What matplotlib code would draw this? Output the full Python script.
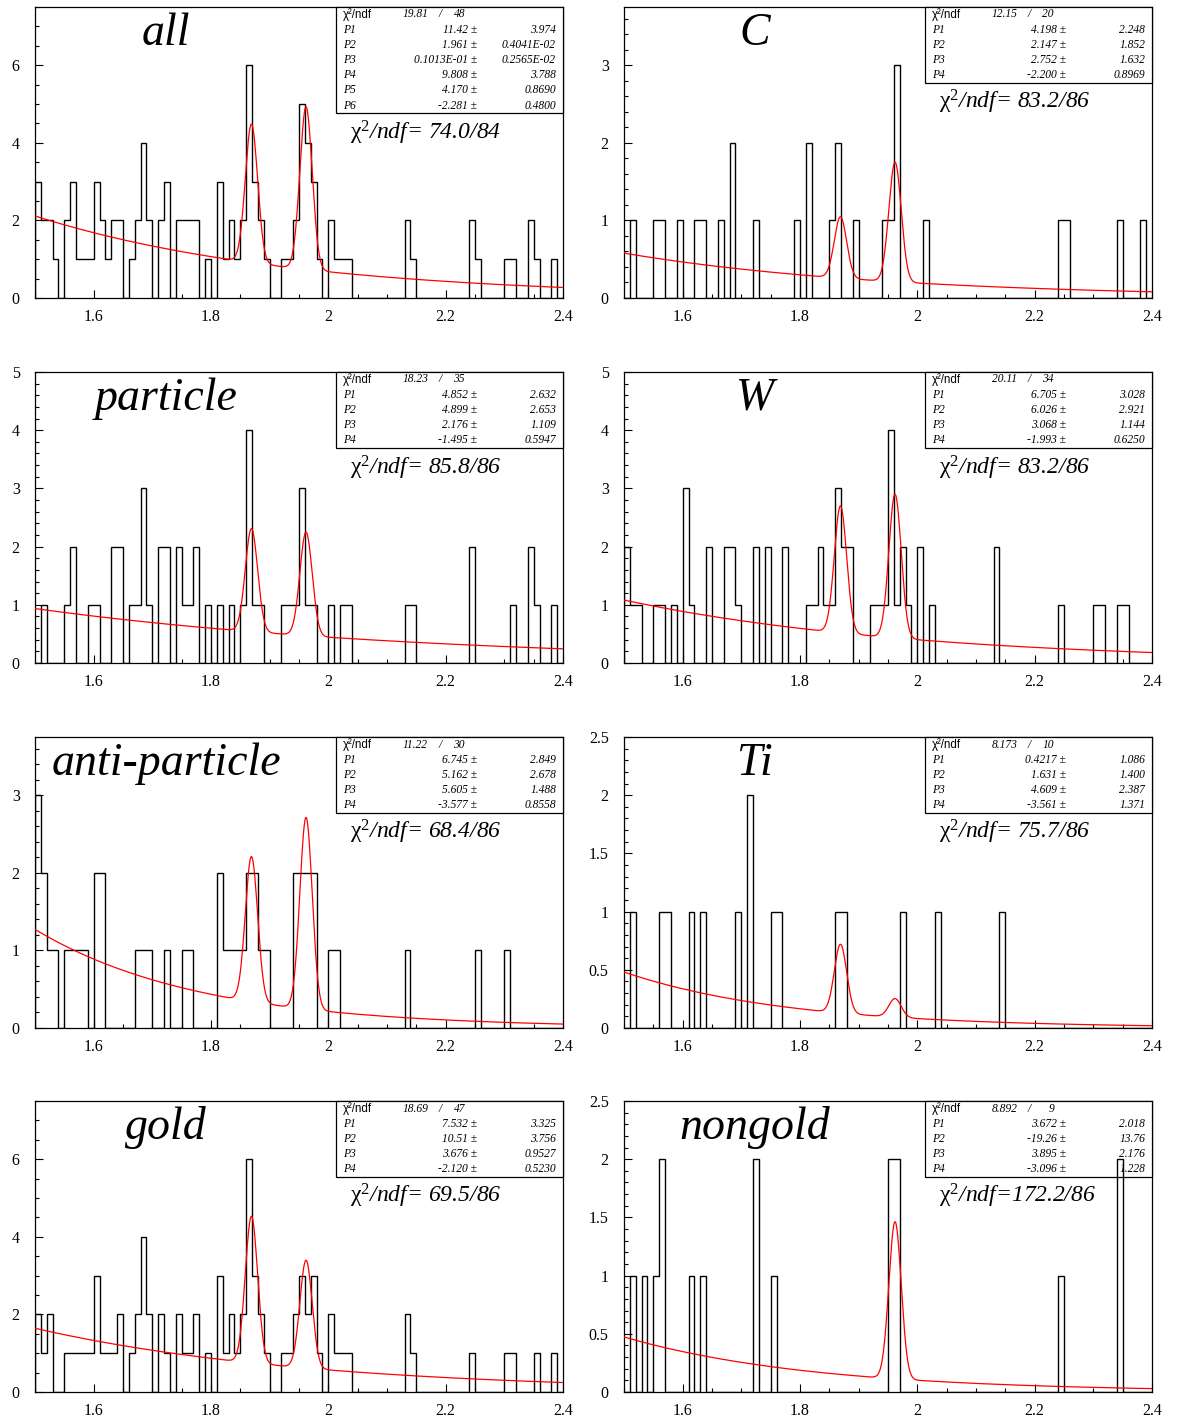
import numpy as np
import matplotlib
matplotlib.use('Agg')
import matplotlib.pyplot as plt
from matplotlib.patches import Rectangle
from matplotlib.ticker import MultipleLocator, FormatStrFormatter

plt.rcParams['font.family'] = ['Liberation Serif', 'DejaVu Serif']
plt.rcParams['mathtext.fontset'] = 'custom'
plt.rcParams['mathtext.rm'] = 'Liberation Serif'
plt.rcParams['mathtext.it'] = 'Liberation Serif:italic'

# --- histogram binning (1.5 - 2.4 GeV, 90 bins) ---
X_LO, X_HI, NBINS = 1.5, 2.4, 90
edges = np.linspace(X_LO, X_HI, NBINS + 1)

# --- bin contents ---
all_counts = [
    3, 2, 2, 1, 0, 2, 3, 1, 1, 1,
    3, 2, 1, 2, 2, 0, 1, 2, 4, 2,
    0, 2, 3, 0, 2, 2, 2, 2, 0, 1,
    0, 3, 1, 2, 1, 2, 6, 3, 2, 1,
    0, 0, 1, 1, 2, 5, 4, 3, 1, 0,
    2, 1, 1, 1, 0, 0, 0, 0, 0, 0,
    0, 0, 0, 2, 1, 0, 0, 0, 0, 0,
    0, 0, 0, 0, 2, 1, 0, 0, 0, 0,
    1, 1, 0, 0, 2, 1, 0, 0, 1, 0]
C_counts = [
    0, 1, 0, 0, 0, 1, 1, 0, 0, 1,
    0, 0, 1, 1, 0, 0, 1, 0, 2, 0,
    0, 0, 1, 0, 0, 0, 0, 0, 0, 1,
    0, 2, 0, 0, 0, 1, 2, 0, 0, 1,
    0, 0, 0, 0, 1, 1, 3, 0, 0, 0,
    0, 1, 0, 0, 0, 0, 0, 0, 0, 0,
    0, 0, 0, 0, 0, 0, 0, 0, 0, 0,
    0, 0, 0, 0, 1, 1, 0, 0, 0, 0,
    0, 0, 0, 0, 1, 0, 0, 0, 1, 0]
particle_counts = [
    0, 1, 0, 0, 0, 1, 2, 0, 0, 1,
    1, 0, 0, 2, 2, 0, 1, 1, 3, 1,
    0, 2, 2, 0, 2, 1, 1, 2, 0, 1,
    0, 1, 0, 1, 0, 1, 4, 1, 1, 0,
    0, 0, 1, 1, 1, 3, 1, 1, 0, 0,
    1, 0, 1, 1, 0, 0, 0, 0, 0, 0,
    0, 0, 0, 1, 1, 0, 0, 0, 0, 0,
    0, 0, 0, 0, 2, 0, 0, 0, 0, 0,
    0, 1, 0, 0, 2, 1, 0, 0, 1, 0]
W_counts = [
    2, 1, 1, 0, 0, 1, 1, 0, 1, 0,
    3, 1, 0, 0, 2, 0, 0, 2, 2, 1,
    0, 0, 2, 0, 2, 0, 0, 2, 0, 0,
    0, 1, 1, 2, 1, 1, 3, 2, 2, 0,
    0, 0, 1, 1, 1, 4, 1, 2, 1, 0,
    2, 0, 1, 0, 0, 0, 0, 0, 0, 0,
    0, 0, 0, 2, 0, 0, 0, 0, 0, 0,
    0, 0, 0, 0, 1, 0, 0, 0, 0, 0,
    1, 1, 0, 0, 1, 1, 0, 0, 0, 0]
anti_counts = [
    3, 2, 1, 1, 0, 1, 1, 1, 1, 0,
    2, 2, 0, 0, 0, 0, 0, 1, 1, 1,
    0, 0, 1, 0, 0, 1, 1, 0, 0, 0,
    0, 2, 1, 1, 1, 1, 2, 2, 1, 1,
    0, 0, 0, 0, 2, 2, 2, 2, 0, 0,
    1, 1, 0, 0, 0, 0, 0, 0, 0, 0,
    0, 0, 0, 1, 0, 0, 0, 0, 0, 0,
    0, 0, 0, 0, 0, 1, 0, 0, 0, 0,
    1, 0, 0, 0, 0, 0, 0, 0, 0, 0]
Ti_counts = [
    0, 1, 0, 0, 0, 0, 1, 1, 0, 0,
    0, 1, 0, 1, 0, 0, 0, 0, 0, 1,
    0, 2, 0, 0, 0, 1, 1, 0, 0, 0,
    0, 0, 0, 0, 0, 0, 1, 1, 0, 0,
    0, 0, 0, 0, 0, 0, 0, 1, 0, 0,
    0, 0, 0, 1, 0, 0, 0, 0, 0, 0,
    0, 0, 0, 0, 1, 0, 0, 0, 0, 0,
    0, 0, 0, 0, 0, 0, 0, 0, 0, 0,
    0, 0, 0, 0, 0, 0, 0, 0, 0, 0]
gold_counts = [
    2, 1, 2, 0, 0, 1, 1, 1, 1, 1,
    3, 1, 1, 1, 2, 0, 1, 2, 4, 2,
    0, 2, 1, 0, 2, 1, 1, 2, 0, 1,
    0, 3, 1, 2, 1, 2, 6, 3, 2, 1,
    0, 0, 1, 1, 2, 3, 2, 3, 1, 0,
    2, 1, 1, 1, 0, 0, 0, 0, 0, 0,
    0, 0, 0, 2, 1, 0, 0, 0, 0, 0,
    0, 0, 0, 0, 1, 0, 0, 0, 0, 0,
    1, 1, 0, 0, 0, 1, 0, 0, 1, 0]
nongold_counts = [
    0, 1, 0, 1, 0, 1, 2, 0, 0, 0,
    0, 1, 0, 1, 0, 0, 0, 0, 0, 0,
    0, 0, 2, 0, 0, 1, 0, 0, 0, 0,
    0, 0, 0, 0, 0, 0, 0, 0, 0, 0,
    0, 0, 0, 0, 0, 2, 2, 0, 0, 0,
    0, 0, 0, 0, 0, 0, 0, 0, 0, 0,
    0, 0, 0, 0, 0, 0, 0, 0, 0, 0,
    0, 0, 0, 0, 1, 0, 0, 0, 0, 0,
    0, 0, 0, 0, 2, 0, 0, 0, 0, 0]

# panel order: row by row, left then right
names = ['all', 'C', 'particle', 'W', 'anti-particle', 'Ti', 'gold', 'nongold']
counts = [all_counts, C_counts, particle_counts, W_counts,
          anti_counts, Ti_counts, gold_counts, nongold_counts]
y_max = [7.5, 3.75, 5, 5, 3.75, 2.5, 7.5, 2.5]
y_major = [2, 1, 1, 1, 1, 0.5, 2, 0.5]
y_minor = [0.5, 0.2, 0.2, 0.2, 0.2, 0.1, 0.5, 0.1]

# fit curve: exp(bg_a + bg_b*x) + two gaussians (D+ and Ds)
bg_a = [4.170, 2.752, 2.176, 3.068, 5.605, 4.609, 3.676, 3.895]
bg_b = [-2.281, -2.200, -1.495, -1.993, -3.577, -3.561, -2.120, -3.096]
dplus_height = [3.57, 0.79, 1.77, 2.18, 1.87, 0.59, 3.78, 0.0]
ds_height = [4.19, 1.54, 1.78, 2.47, 2.47, 0.16, 2.78, 1.35]
M_DPLUS, M_DS, SIGMA = 1.869, 1.962, 0.0105

chi2_text = ['74.0/84', '83.2/86', '85.8/86', '83.2/86',
             '68.4/86', '75.7/86', '69.5/86', '172.2/86']
stat_chi2 = ['19.81', '12.15', '18.23', '20.11', '11.22', '8.173', '18.69', '8.892']
stat_ndf = ['48', '20', '35', '34', '30', '10', '47', '9']
stat_vals = [
    ['11.42', '1.961', '0.1013E-01', '9.808', '4.170', '-2.281'],
    ['4.198', '2.147', '2.752', '-2.200'],
    ['4.852', '4.899', '2.176', '-1.495'],
    ['6.705', '6.026', '3.068', '-1.993'],
    ['6.745', '5.162', '5.605', '-3.577'],
    ['0.4217', '1.631', '4.609', '-3.561'],
    ['7.532', '10.51', '3.676', '-2.120'],
    ['3.672', '-19.26', '3.895', '-3.096'],
]
stat_errs = [
    ['3.974', '0.4041E-02', '0.2565E-02', '3.788', '0.8690', '0.4800'],
    ['2.248', '1.852', '1.632', '0.8969'],
    ['2.632', '2.653', '1.109', '0.5947'],
    ['3.028', '2.921', '1.144', '0.6250'],
    ['2.849', '2.678', '1.488', '0.8558'],
    ['1.086', '1.400', '2.387', '1.371'],
    ['3.325', '3.756', '0.9527', '0.5230'],
    ['2.018', '13.76', '2.176', '1.228'],
]

# layout in pixels (figure 1178 x 1421 at dpi 100)
FIG_W, FIG_H = 1178, 1421
AX_W, AX_H = 528, 291
col_left = [35, 624]
row_top = [7, 372, 737, 1101]
ROW_H = 15.2


def px(dx, dy):
    """pixel offset from the axes top-left corner -> axes fraction"""
    return dx / AX_W, 1 - dy / AX_H


fig = plt.figure(figsize=(FIG_W / 100, FIG_H / 100), dpi=100)
x_fine = np.linspace(X_LO, X_HI, 1200)

for i, name in enumerate(names):
    r, c = divmod(i, 2)
    left = col_left[c] / FIG_W
    bottom = 1 - (row_top[r] + AX_H) / FIG_H
    ax = fig.add_axes([left, bottom, AX_W / FIG_W, AX_H / FIG_H])

    ax.stairs(counts[i], edges, color='black', lw=1.0, zorder=4)

    fit = (np.exp(bg_a[i] + bg_b[i] * x_fine)
           + dplus_height[i] * np.exp(-0.5 * ((x_fine - M_DPLUS) / SIGMA) ** 2)
           + ds_height[i] * np.exp(-0.5 * ((x_fine - M_DS) / SIGMA) ** 2))
    ax.plot(x_fine, fit, color='red', lw=0.9, zorder=5)

    ax.set_xlim(X_LO, X_HI)
    ax.set_ylim(0, y_max[i])
    ax.set_xticks([1.6, 1.8, 2.0, 2.2, 2.4])
    ax.set_xticklabels(['1.6', '1.8', '2', '2.2', '2.4'])
    ax.xaxis.set_minor_locator(MultipleLocator(0.05))
    ax.yaxis.set_major_locator(MultipleLocator(y_major[i]))
    ax.yaxis.set_minor_locator(MultipleLocator(y_minor[i]))
    ax.yaxis.set_major_formatter(FormatStrFormatter('%g'))
    ax.tick_params(which='both', direction='in', top=False, right=False,
                   width=0.8, labelsize=11.5)
    ax.tick_params(which='major', length=6)
    ax.tick_params(which='minor', length=3)
    ax.tick_params(axis='x', pad=8)
    ax.tick_params(axis='y', pad=11)
    for sp in ax.spines.values():
        sp.set_linewidth(0.9)

    # big panel title
    tx, ty = px(131, 38)
    ax.text(tx, ty, name, transform=ax.transAxes, ha='center', va='baseline',
            fontsize=33, style='italic')

    # stats box
    nrow = len(stat_vals[i]) + 1
    bx0 = 301
    bx, by = px(bx0, ROW_H * nrow)
    ax.add_patch(Rectangle((bx, by), 1 - bx, 1 - by, transform=ax.transAxes,
                           facecolor='white', edgecolor='black', lw=0.9,
                           zorder=3, clip_on=False))
    fs = 8.3
    yy = px(0, 7.5)[1]
    ax.text(px(bx0 + 7, 0)[0], yy, '\u03c7\u00b2/ndf', transform=ax.transAxes,
            ha='left', va='center', fontsize=fs, family=['Liberation Sans'], zorder=6)
    ax.text(px(bx0 + 67, 0)[0], yy, stat_chi2[i], transform=ax.transAxes,
            ha='left', va='center', fontsize=fs, style='italic', zorder=6)
    ax.text(px(bx0 + 104, 0)[0], yy, '/', transform=ax.transAxes,
            ha='center', va='center', fontsize=fs, style='italic', zorder=6)
    ax.text(px(bx0 + 129, 0)[0], yy, stat_ndf[i], transform=ax.transAxes,
            ha='right', va='center', fontsize=fs, style='italic', zorder=6)
    for k, (v, e) in enumerate(zip(stat_vals[i], stat_errs[i])):
        yy = px(0, 7.5 + ROW_H * (k + 1))[1]
        ax.text(px(bx0 + 7, 0)[0], yy, f'P{k + 1}', transform=ax.transAxes,
                ha='left', va='center', fontsize=fs, style='italic', zorder=6)
        ax.text(px(bx0 + 141, 0)[0], yy, v + ' \u00b1', transform=ax.transAxes,
                ha='right', va='center', fontsize=fs, style='italic', zorder=6)
        ax.text(px(bx0 + 220, 0)[0], yy, e, transform=ax.transAxes,
                ha='right', va='center', fontsize=fs, style='italic', zorder=6)

    # chi2 label under the box
    cx, cy = px(315, ROW_H * nrow + 26)
    sep = ' ' if len(chi2_text[i]) < 8 else ''
    label = r'$\mathrm{\chi}^{2}$' + '/ndf=' + sep + chi2_text[i]
    ax.text(cx, cy, label, transform=ax.transAxes, ha='left', va='baseline',
            fontsize=17, style='italic', zorder=6)

fig.savefig('out.png', dpi=100)
